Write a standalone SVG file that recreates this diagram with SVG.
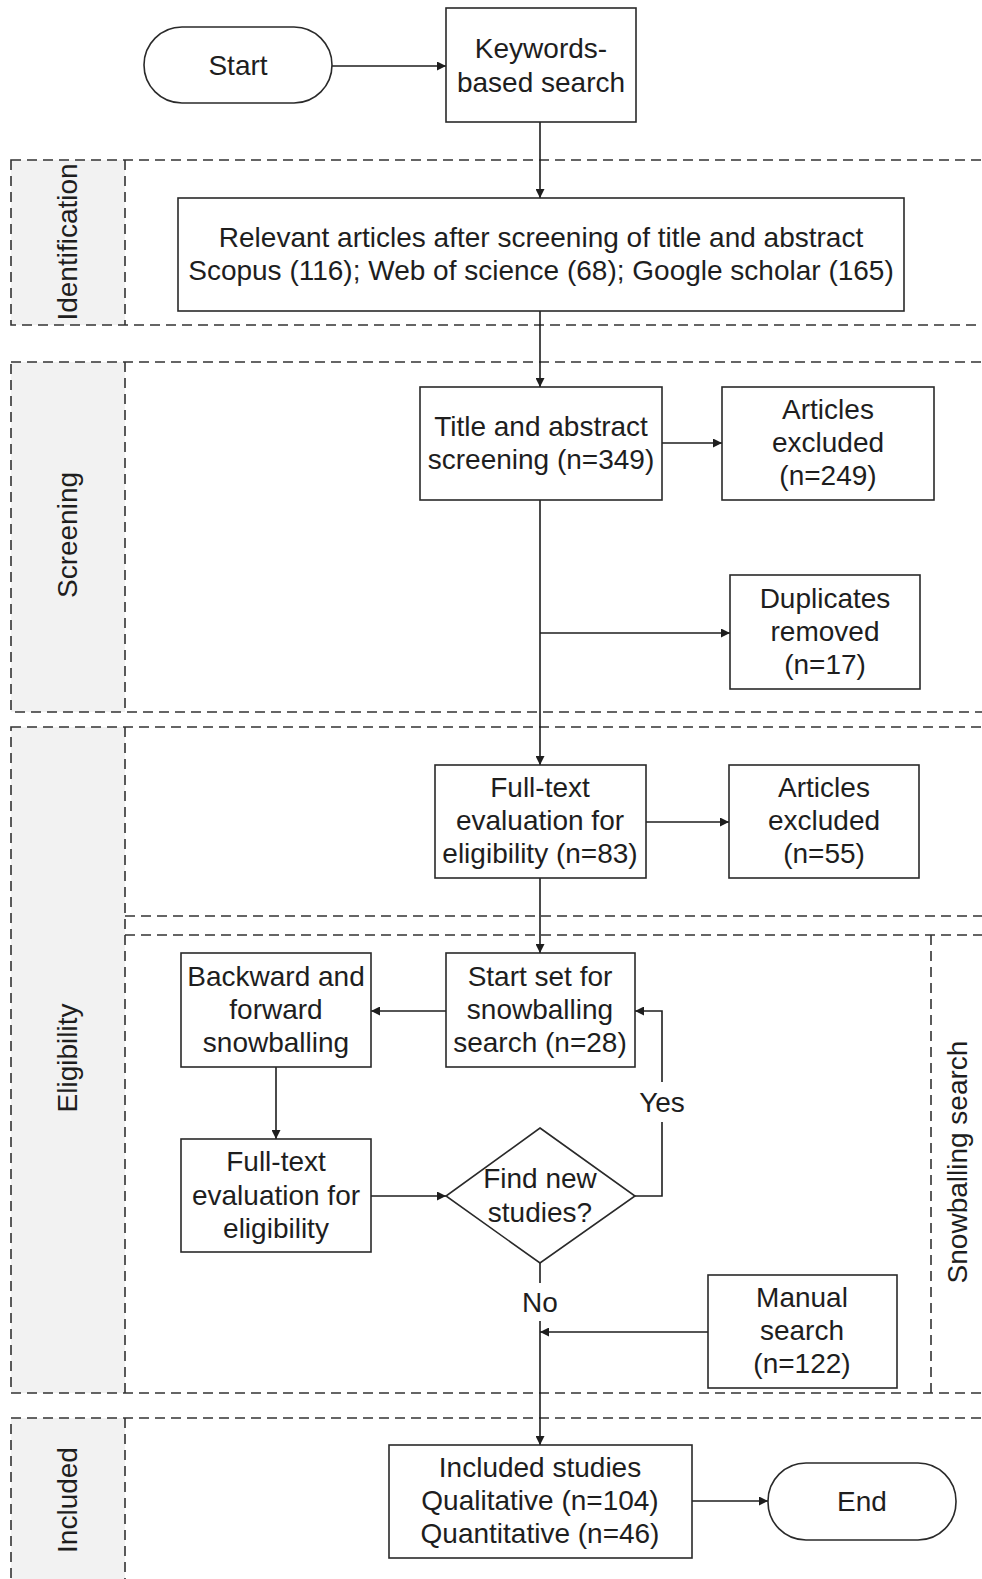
<svg xmlns="http://www.w3.org/2000/svg" width="982" height="1579" viewBox="0 0 982 1579">
<style>
.lane{fill:none;stroke:#333;stroke-width:1.6;stroke-dasharray:10 6}
.lab{fill:#f2f2f2;stroke:none}
.box{fill:#fff;stroke:#2a2a2a;stroke-width:1.6}
.t{font-family:"Liberation Sans",Arial,sans-serif;font-size:28px;fill:#1e1e1e;text-anchor:middle;dominant-baseline:central}
.c{fill:none;stroke:#1e1e1e;stroke-width:1.6}
</style>
<defs>
<marker id="ah" viewBox="0 0 10 10" refX="10" refY="5" markerWidth="10" markerHeight="9" markerUnits="userSpaceOnUse" orient="auto">
<path d="M0,0 L10,5 L0,10 z" fill="#1e1e1e"/>
</marker>
</defs>
<rect width="982" height="1579" fill="#fff"/>

<g id="lanes">
<g id="lane-identification">
<rect class="lab" x="11" y="160" width="114" height="165"/>
<rect class="lane" x="11" y="160" width="1000" height="165"/>
<line class="lane" x1="125" y1="160" x2="125" y2="325"/>
<text class="t" transform="translate(67,242) rotate(-90)">Identification</text>
</g>
<g id="lane-screening">
<rect class="lab" x="11" y="362" width="114" height="350"/>
<rect class="lane" x="11" y="362" width="1000" height="350"/>
<line class="lane" x1="125" y1="362" x2="125" y2="712"/>
<text class="t" transform="translate(67,535) rotate(-90)">Screening</text>
</g>
<g id="lane-eligibility">
<rect class="lab" x="11" y="727" width="114" height="666"/>
<rect class="lane" x="11" y="727" width="1000" height="666"/>
<line class="lane" x1="125" y1="727" x2="125" y2="1393"/>
<line class="lane" x1="125" y1="916" x2="1000" y2="916"/>
<line class="lane" x1="125" y1="935" x2="1000" y2="935"/>
<line class="lane" x1="931" y1="935" x2="931" y2="1393"/>
<text class="t" transform="translate(67,1058) rotate(-90)">Eligibility</text>
<text class="t" transform="translate(957,1162) rotate(-90)">Snowballing search</text>
</g>
<g id="lane-included">
<rect class="lab" x="11" y="1418" width="114" height="200"/>
<rect class="lane" x="11" y="1418" width="1000" height="200"/>
<line class="lane" x1="125" y1="1418" x2="125" y2="1618"/>
<text class="t" transform="translate(67,1500) rotate(-90)">Included</text>
</g>
</g>

<g id="connectors">
<line class="c" x1="332" y1="66" x2="446" y2="66" marker-end="url(#ah)"/>
<line class="c" x1="540" y1="122" x2="540" y2="198" marker-end="url(#ah)"/>
<line class="c" x1="540" y1="311" x2="540" y2="387" marker-end="url(#ah)"/>
<line class="c" x1="662" y1="443" x2="722" y2="443" marker-end="url(#ah)"/>
<line class="c" x1="540" y1="500" x2="540" y2="765" marker-end="url(#ah)"/>
<line class="c" x1="540" y1="633" x2="730" y2="633" marker-end="url(#ah)"/>
<line class="c" x1="646" y1="822" x2="729" y2="822" marker-end="url(#ah)"/>
<line class="c" x1="540" y1="878" x2="540" y2="953" marker-end="url(#ah)"/>
<line class="c" x1="446" y1="1011" x2="371" y2="1011" marker-end="url(#ah)"/>
<line class="c" x1="276" y1="1067" x2="276" y2="1139" marker-end="url(#ah)"/>
<line class="c" x1="371" y1="1196" x2="446" y2="1196" marker-end="url(#ah)"/>
<polyline class="c" points="635,1196 662,1196 662,1122"/>
<polyline class="c" points="662,1082 662,1011 635,1011" marker-end="url(#ah)"/>
<text class="t" x="662" y="1102">Yes</text>
<line class="c" x1="540" y1="1263" x2="540" y2="1283"/>
<text class="t" x="540" y="1302">No</text>
<line class="c" x1="540" y1="1321" x2="540" y2="1445" marker-end="url(#ah)"/>
<line class="c" x1="708" y1="1332" x2="540" y2="1332" marker-end="url(#ah)"/>
<line class="c" x1="692" y1="1501" x2="768" y2="1501" marker-end="url(#ah)"/>
</g>

<g id="start">
<rect class="box" x="144" y="27" width="188" height="76" rx="38" ry="38"/>
<text class="t" x="238" y="65">Start</text>
</g>
<g id="keywords">
<rect class="box" x="446" y="8" width="190" height="114"/>
<text class="t" x="541" y="48">Keywords-</text>
<text class="t" x="541" y="82">based search</text>
</g>
<g id="relevant">
<rect class="box" x="178" y="198" width="726" height="113"/>
<text class="t" x="541" y="237">Relevant articles after screening of title and abstract</text>
<text class="t" x="541" y="270">Scopus (116); Web of science (68); Google scholar (165)</text>
</g>
<g id="title-screening">
<rect class="box" x="420" y="387" width="242" height="113"/>
<text class="t" x="541" y="426">Title and abstract</text>
<text class="t" x="541" y="459">screening (n=349)</text>
</g>
<g id="excluded-249">
<rect class="box" x="722" y="387" width="212" height="113"/>
<text class="t" x="828" y="409">Articles</text>
<text class="t" x="828" y="442">excluded</text>
<text class="t" x="828" y="475">(n=249)</text>
</g>
<g id="duplicates">
<rect class="box" x="730" y="575" width="190" height="114"/>
<text class="t" x="825" y="598">Duplicates</text>
<text class="t" x="825" y="631">removed</text>
<text class="t" x="825" y="664">(n=17)</text>
</g>
<g id="fulltext">
<rect class="box" x="435" y="765" width="211" height="113"/>
<text class="t" x="540" y="787">Full-text</text>
<text class="t" x="540" y="820">evaluation for</text>
<text class="t" x="540" y="853">eligibility (n=83)</text>
</g>
<g id="excluded-55">
<rect class="box" x="729" y="765" width="190" height="113"/>
<text class="t" x="824" y="787">Articles</text>
<text class="t" x="824" y="820">excluded</text>
<text class="t" x="824" y="853">(n=55)</text>
</g>
<g id="start-set">
<rect class="box" x="446" y="953" width="189" height="114"/>
<text class="t" x="540" y="976">Start set for</text>
<text class="t" x="540" y="1009">snowballing</text>
<text class="t" x="540" y="1042">search (n=28)</text>
</g>
<g id="backward">
<rect class="box" x="181" y="953" width="190" height="114"/>
<text class="t" x="276" y="976">Backward and</text>
<text class="t" x="276" y="1009">forward</text>
<text class="t" x="276" y="1042">snowballing</text>
</g>
<g id="fulltext-eval">
<rect class="box" x="181" y="1139" width="190" height="113"/>
<text class="t" x="276" y="1161">Full-text</text>
<text class="t" x="276" y="1195">evaluation for</text>
<text class="t" x="276" y="1228">eligibility</text>
</g>
<g id="decision">
<polygon class="box" points="540,1128 635,1196 540,1263 446,1196"/>
<text class="t" x="540" y="1178">Find new</text>
<text class="t" x="540" y="1212">studies?</text>
</g>
<g id="manual">
<rect class="box" x="708" y="1275" width="189" height="113"/>
<text class="t" x="802" y="1297">Manual</text>
<text class="t" x="802" y="1330">search</text>
<text class="t" x="802" y="1363">(n=122)</text>
</g>
<g id="included">
<rect class="box" x="389" y="1445" width="303" height="113"/>
<text class="t" x="540" y="1467">Included studies</text>
<text class="t" x="540" y="1500">Qualitative (n=104)</text>
<text class="t" x="540" y="1533">Quantitative (n=46)</text>
</g>
<g id="end">
<rect class="box" x="768" y="1463" width="188" height="77" rx="38" ry="38"/>
<text class="t" x="862" y="1501">End</text>
</g>
</svg>
